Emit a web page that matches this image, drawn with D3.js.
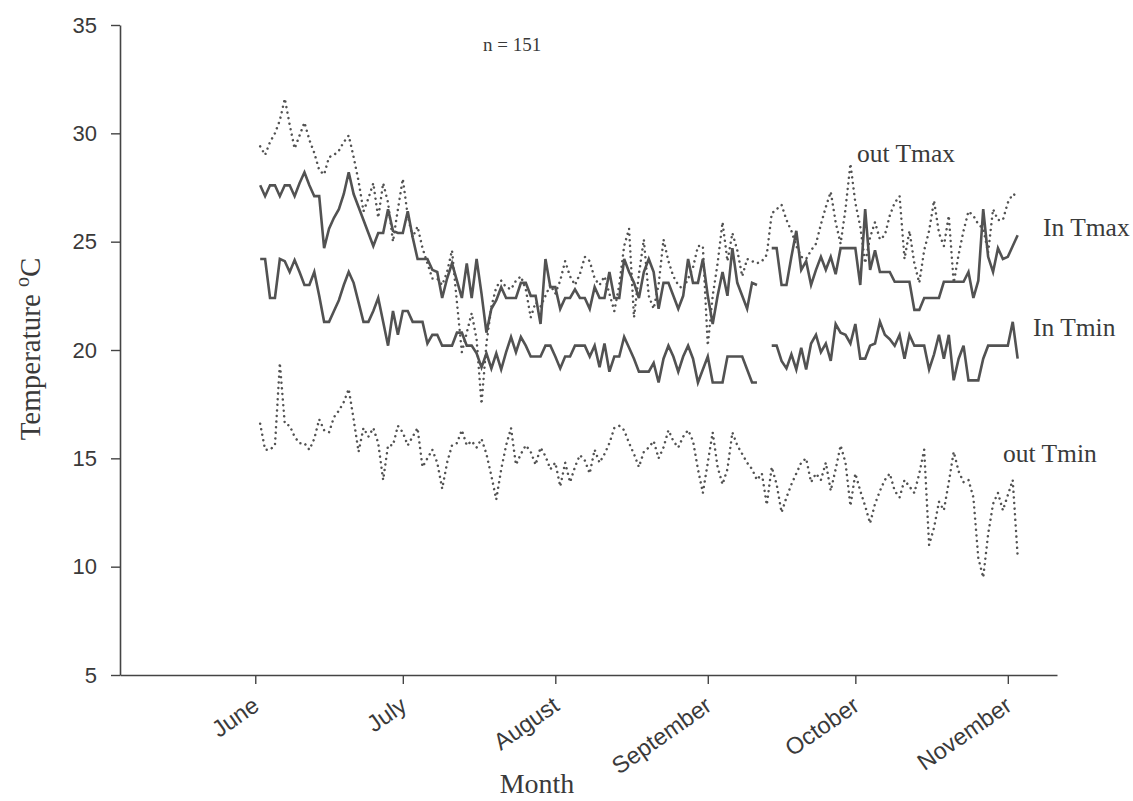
<!DOCTYPE html>
<html>
<head>
<meta charset="utf-8">
<script src="https://cdn.jsdelivr.net/npm/d3@7/dist/d3.min.js"></script>
<style>
  body { margin: 0; background: #fff; }
  svg { display: block; }
</style>
</head>
<body>
<div class="chart"></div>
<script>
// daily readings, first value = 2 June, one value per day
const firstDay = new Date(2001, 5, 2);
const monthTicks = [5, 6, 7, 8, 9, 10].map(m => new Date(2001, m, 1));
const yTicks = [5, 10, 15, 20, 25, 30, 35];

const inTmax = [
  27.6, 27.1, 27.6, 27.6, 27.1, 27.6, 27.6, 27.1, 27.7, 28.2,
  27.6, 27.1, 27.1, 24.7, 25.6, 26.1, 26.5, 27.2, 28.2, 27.2,
  26.6, 26.0, 25.4, 24.8, 25.4, 25.4, 26.5, 25.5, 25.4, 25.4,
  26.4, 25.2, 24.2, 24.2, 24.2, 23.7, 23.6, 22.4, 23.3, 24.0,
  23.2, 22.4, 24.0, 22.4, 24.2, 22.6, 20.8, 21.9, 22.3, 22.9,
  22.4, 22.4, 22.4, 23.1, 23.1, 22.5, 22.5, 21.2, 24.2, 22.9,
  22.9, 21.9, 22.4, 22.4, 22.8, 22.4, 22.4, 21.9, 22.9, 22.4,
  22.4, 23.6, 22.4, 22.4, 24.2, 23.6, 23.1, 22.4, 23.6, 24.2,
  23.6, 21.9, 23.1, 23.1, 22.5, 21.9, 22.5, 24.2, 23.1, 23.1,
  24.2, 22.5, 21.2, 22.5, 23.6, 22.5, 24.7, 23.1, 22.5, 21.9,
  23.1, 23.0, null, null, 24.7, 24.7, 23.0, 23.0, 24.3, 25.5,
  23.7, 24.1, 23.0, 23.7, 24.3, 23.7, 24.3, 23.5, 24.7, 24.7,
  24.7, 24.7, 23.0, 26.5, 23.7, 24.6, 23.6, 23.6, 23.6, 23.15,
  23.15, 23.15, 23.15, 21.85, 21.85, 22.4, 22.4, 22.4, 22.4, 23.15,
  23.15, 23.15, 23.15, 23.15, 23.6, 22.4, 23.2, 26.5, 24.3, 23.6,
  24.7, 24.2, 24.3, 24.8, 25.3
];

const inTmin = [
  24.2, 24.2, 22.4, 22.4, 24.2, 24.1, 23.6, 24.15, 23.6, 23.0,
  23.0, 23.6, 22.5, 21.3, 21.3, 21.8, 22.3, 23.0, 23.6, 23.1,
  22.2, 21.3, 21.3, 21.8, 22.4, 21.3, 20.2, 21.8, 20.7, 21.8,
  21.8, 21.3, 21.3, 21.3, 20.3, 20.7, 20.7, 20.2, 20.2, 20.2,
  20.8, 20.8, 20.2, 20.2, 19.85, 19.2, 19.85, 19.15, 19.85, 19.1,
  19.9, 20.6, 19.9, 20.6, 20.2, 19.7, 19.7, 19.7, 20.2, 20.2,
  19.7, 19.15, 19.7, 19.7, 20.2, 20.2, 20.2, 19.7, 20.2, 19.2,
  20.3, 19.0, 19.7, 19.7, 20.6, 20.1, 19.6, 19.0, 19.0, 19.0,
  19.4, 18.5, 19.6, 20.2, 19.7, 19.0, 19.7, 20.2, 19.6, 18.5,
  19.1, 19.7, 18.5, 18.5, 18.5, 19.7, 19.7, 19.7, 19.7, 19.1,
  18.5, 18.5, null, null, 20.2, 20.2, 19.5, 19.15, 19.8, 19.1,
  20.1, 19.1, 20.3, 20.7, 19.9, 20.3, 19.5, 21.2, 20.8, 20.7,
  20.3, 21.2, 19.6, 19.6, 20.2, 20.3, 21.3, 20.7, 20.5, 20.2,
  20.7, 19.6, 20.7, 20.2, 20.2, 20.2, 19.1, 19.8, 20.7, 19.6,
  20.7, 18.6, 19.6, 20.2, 18.6, 18.6, 18.6, 19.6, 20.2, 20.2,
  20.2, 20.2, 20.2, 21.3, 19.6
];

const outTmax = [
  29.4, 29.0, 29.6, 30.0, 30.6, 31.6, 30.4, 29.3, 29.9, 30.5,
  29.7, 29.1, 28.3, 28.1, 28.9, 29.0, 29.2, 29.6, 29.9, 28.9,
  27.8, 26.4, 27.0, 27.7, 26.1, 27.7, 26.8, 25.0, 26.5, 27.9,
  26.2, 25.2, 25.7, 24.7, 24.0, 23.3, 23.3, 23.0, 23.6, 24.6,
  22.2, 19.9, 20.8, 21.7, 20.5, 17.5, 20.3, 22.0, 22.9, 23.2,
  22.9, 22.8, 23.2, 23.4, 22.8, 21.5, 22.2, 22.0, 22.5, 23.0,
  22.6, 23.2, 24.1, 23.4, 23.0, 23.5, 24.3, 24.1, 23.3, 23.0,
  23.4, 22.6, 21.8, 23.0, 24.8, 25.6, 21.5, 23.5, 25.1, 22.5,
  21.9, 23.0, 25.1, 24.1, 23.4, 23.0, 22.8, 23.3, 23.8, 24.8,
  24.8, 20.2, 22.5, 24.0, 25.9, 24.1, 25.4, 24.6, 23.4, 24.2,
  24.1, 24.0, 24.1, 24.4, 26.3, 26.5, 26.7, 26.0, 25.5, 24.8,
  24.3, 24.2, 24.6, 24.9, 25.8, 26.6, 27.3, 25.9, 24.9, 26.5,
  28.6, 26.8, 25.7, 24.0, 25.2, 25.9, 25.1, 25.3, 26.2, 26.8,
  27.1, 24.2, 25.5, 24.0, 23.1, 24.6, 25.5, 26.9, 25.4, 24.8,
  26.2, 23.1, 24.4, 25.5, 26.4, 26.2, 25.8, 25.6, 24.5, 26.5,
  26.0, 26.0, 26.8, 27.2, 27.1
];

const outTmin = [
  16.6, 15.4, 15.4, 15.6, 19.4, 16.6, 16.5, 16.0, 15.7, 15.7,
  15.4, 15.9, 16.8, 16.3, 16.2, 16.9, 17.2, 17.6, 18.2, 16.8,
  15.3, 16.4, 16.0, 16.4, 15.7, 14.0, 15.6, 15.6, 16.5, 16.2,
  15.6, 16.0, 16.4, 14.6, 15.0, 15.4, 14.8, 13.6, 14.8, 15.6,
  15.7, 16.3, 15.6, 15.8, 15.5, 15.9, 15.2, 14.2, 13.1, 14.5,
  15.6, 16.4, 14.7, 15.2, 15.6, 15.3, 14.7, 15.5, 15.1, 14.5,
  14.8, 13.7, 14.8, 13.9, 14.6, 15.15, 14.9, 14.3, 15.4, 14.8,
  15.2, 15.7, 16.4, 16.5, 16.3, 15.7, 15.2, 14.6, 15.3, 15.5,
  15.8, 15.0, 15.5, 16.3, 15.8, 15.5, 16.0, 16.3, 15.8, 14.5,
  13.4, 14.8, 16.2, 14.6, 13.8, 14.5, 16.2, 15.6, 15.2, 14.8,
  14.5, 14.0, 14.3, 12.85, 14.6, 13.8, 12.5, 13.2, 13.8, 14.3,
  14.8, 15.0, 13.9, 14.3, 14.0, 14.8, 13.5, 14.5, 15.6, 14.8,
  12.8, 14.3, 13.5, 12.8, 12.0, 12.9, 13.5, 14.0, 14.3, 13.5,
  13.2, 14.0, 13.7, 13.4, 14.3, 15.4, 11.0, 11.8, 13.0, 12.6,
  13.9, 15.3, 14.4, 13.9, 14.0, 13.2, 10.4, 9.5, 11.5, 12.9,
  13.4, 12.6, 13.3, 14.0, 10.5
];

const seriesLabels = ['out Tmax', 'In Tmax', 'In Tmin', 'out Tmin'];

const width = 1133, height = 801;
const axisColor = '#444';
const lineColor = '#525252';

const svg = d3.select('.chart').append('svg')
  .attr('width', width).attr('height', height);

const dayOf = i => d3.timeDay.offset(firstDay, i);

// x: calendar days, y: temperature
const x = d3.scaleTime()
  .domain([new Date(2001, 4, 4, 12), new Date(2001, 10, 11)])
  .range([120, 1057]);
const y = d3.scaleLinear().domain([5, 35]).range([675, 25]);

// axes
const yAxis = svg.append('g')
  .attr('transform', 'translate(' + x.range()[0] + ',0)')
  .call(d3.axisLeft(y).tickValues(yTicks).tickSize(9).tickSizeOuter(0).tickPadding(14));
const xAxis = svg.append('g')
  .attr('transform', 'translate(0,' + y.range()[0] + ')')
  .call(d3.axisBottom(x).tickValues(monthTicks).tickSize(9).tickSizeOuter(0)
    .tickFormat(d3.timeFormat('%B')));

[xAxis, yAxis].forEach(a => {
  a.select('.domain').attr('stroke', axisColor).attr('stroke-width', 1.6);
  a.selectAll('.tick line').attr('stroke', axisColor).attr('stroke-width', 1.4);
});
yAxis.selectAll('.tick text')
  .attr('font-family', '"Liberation Sans", Arial, sans-serif')
  .attr('font-size', 22).attr('fill', '#3a3a3a');
xAxis.selectAll('.tick text')
  .attr('font-family', '"Liberation Sans", Arial, sans-serif')
  .attr('font-size', 23.5).attr('fill', '#3a3a3a')
  .attr('text-anchor', 'end')
  .attr('x', 0).attr('y', 0).attr('dy', 0)
  .attr('transform', 'translate(5,34) rotate(-35)');

// lines
const line = d3.line()
  .defined(d => d != null)
  .x((d, i) => x(dayOf(i)))
  .y(d => y(d));

svg.append('path').datum(outTmax)
  .attr('fill', 'none').attr('stroke', lineColor)
  .attr('stroke-width', 2.5).attr('stroke-linecap', 'round')
  .attr('stroke-dasharray', '0.01,5.6')
  .attr('d', line);
svg.append('path').datum(outTmin)
  .attr('fill', 'none').attr('stroke', lineColor)
  .attr('stroke-width', 2.5).attr('stroke-linecap', 'round')
  .attr('stroke-dasharray', '0.01,5.6')
  .attr('d', line);
svg.append('path').datum(inTmax)
  .attr('fill', 'none').attr('stroke', lineColor)
  .attr('stroke-width', 2.6).attr('stroke-linejoin', 'miter')
  .attr('d', line);
svg.append('path').datum(inTmin)
  .attr('fill', 'none').attr('stroke', lineColor)
  .attr('stroke-width', 2.6).attr('stroke-linejoin', 'miter')
  .attr('d', line);

// series labels
const serif = '"Liberation Serif", "Times New Roman", serif';
const labelPos = [[857, 162], [1043, 236], [1033, 336], [1003, 462]];
svg.selectAll('text.series')
  .data(seriesLabels)
  .enter()
  .append('text')
  .attr('class', 'series')
  .attr('x', (d, i) => labelPos[i][0])
  .attr('y', (d, i) => labelPos[i][1])
  .attr('font-family', serif).attr('font-size', 25.5).attr('fill', '#3a3a3a')
  .text(d => d);

svg.append('text')
  .attr('x', 483).attr('y', 51)
  .attr('font-family', serif).attr('font-size', 19).attr('fill', '#3a3a3a')
  .text('n = 151');

// axis titles
svg.append('text')
  .attr('x', 537).attr('y', 793)
  .attr('text-anchor', 'middle')
  .attr('font-family', serif).attr('font-size', 28).attr('fill', '#3a3a3a')
  .text('Month');

const yTitle = svg.append('text')
  .attr('transform', 'translate(40,349) rotate(-90)')
  .attr('text-anchor', 'middle')
  .attr('font-family', serif).attr('font-size', 29).attr('fill', '#3a3a3a');
yTitle.append('tspan').text('Temperature ');
yTitle.append('tspan').attr('font-size', 20).attr('dy', -11).text('o');
yTitle.append('tspan').attr('dy', 11).text('C');
</script>
</body>
</html>
